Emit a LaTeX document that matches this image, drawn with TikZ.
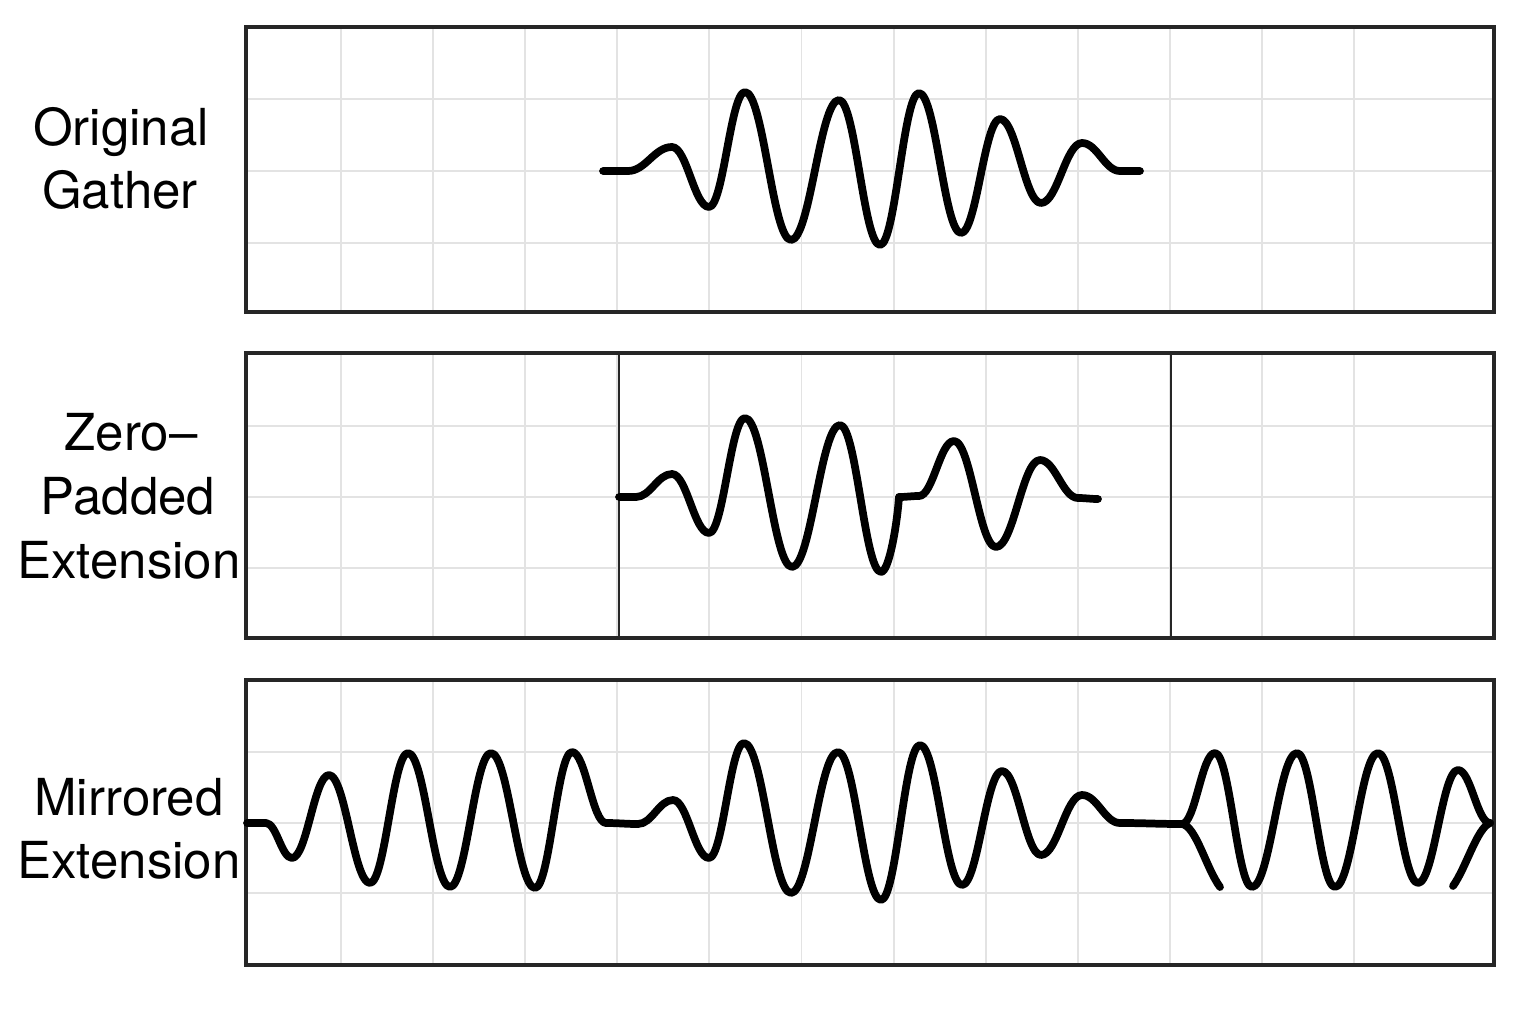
\documentclass[tikz,border=0pt]{standalone}
\usepackage{fontspec}
\setmainfont{TeX Gyre Heros}
\newcommand{\wavepath}[3]{% start x, start y, list
  (#1,#2) \foreach \x/\y [remember=\x as \px (initially #1), remember=\y as \py (initially #2)] in {#3}
  { .. controls ({\px+0.4*(\x-\px)},\py) and ({\x-0.4*(\x-\px)},\y) .. (\x,\y) }}
\begin{document}
\begin{tikzpicture}[x=0.01cm,y=-0.01cm,
  gridline/.style={draw=black!11, line width=0.55pt},
  panel/.style={draw=black!85, line width=0.9pt},
  divider/.style={draw=black!85, line width=0.6pt},
  wave/.style={draw=black, line width=2.2pt, line cap=round, line join=round},
  lbl/.style={anchor=base, inner sep=0pt, font=\fontsize{14.5}{18}\selectfont}]
\useasboundingbox[fill=white] (0,0) rectangle (1536,1024);
% grids
\foreach \t/\b/\ya/\yb/\yc in {27/312/99/171/243, 353/638/426/497/568, 680/965/752/823/893}{
  \foreach \k in {0,...,11}{
    \draw[gridline] ({341+92.1*\k},\t) -- ({341+92.1*\k},\b);
  }
  \draw[gridline] (246,\ya) -- (1494,\ya);
  \draw[gridline] (246,\yb) -- (1494,\yb);
  \draw[gridline] (246,\yc) -- (1494,\yc);
}
% panels
\draw[panel] (246,27) rectangle (1494,312);
\draw[panel] (246,353) rectangle (1494,638);
\draw[panel] (246,680) rectangle (1494,965);
\draw[divider] (619,353) -- (619,638);
\draw[divider] (1171,353) -- (1171,638);
% labels
\node[lbl] (l1a) at (121,145) {Original};
\node[lbl] (l1b) at (120,208) {Gather};
\node[lbl] (l2a) at (131,450) {Zero–};
\node[lbl] (l2b) at (128,514) {Padded};
\node[lbl] (l2c) at (129,578) {Extension};
\node[lbl] (l3a) at (129,815) {Mirrored};
\node[lbl] (l3b) at (129,878) {Extension};
% panel 1 wave
\draw[wave] \wavepath{603}{171}{628/171, 672/147, 709/207, 745/92, 791/240, 839/100,
 880/245, 919/93, 961/233, 1000/119, 1041/203, 1082/143, 1120/171, 1140/171};
% panel 2 wave
\draw[wave] \wavepath{619}{497}{636/497, 672/474, 709/533, 745/418, 792/567, 840/425, 881/572}
  .. controls (889,572) and (897,525) .. (899,497);
\draw[wave] \wavepath{899}{497}{919/496, 954/441, 996/547, 1040/460, 1078/498, 1098/499};
% panel 3 wave
\draw[wave] \wavepath{247}{823}{266/823, 292/858, 329/775, 370/883, 408/753, 450/887,
 491/753, 535/888, 572/752, 606/823, 638/824, 673/800, 709/858,
 744/743, 791/893, 838/752, 881/900, 920/745, 962/885, 1002/771,
 1041/855, 1082/795, 1120/823, 1182/824, 1215/753, 1252/887,
 1297/753, 1335/887, 1378/753, 1418/883, 1458/770, 1490/823};
\draw[wave] (1182,824) .. controls (1196,826) and (1206,868) .. (1220,887);
\draw[wave] (1490,823) .. controls (1477,828) and (1466,868) .. (1453,886);
\end{tikzpicture}
\end{document}
